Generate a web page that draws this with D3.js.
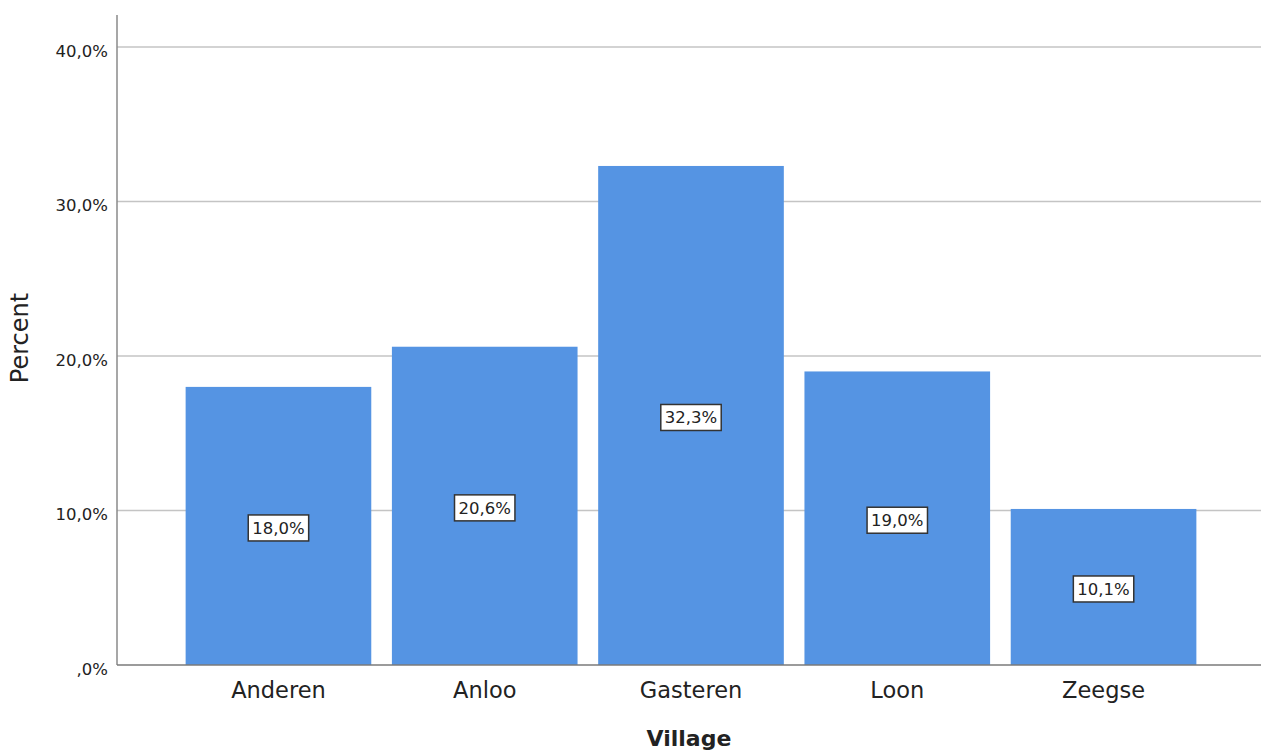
<!DOCTYPE html>
<html>
<head>
<meta charset="utf-8">
<script src="https://cdn.jsdelivr.net/npm/d3@7"></script>
<style>
  html, body { margin: 0; padding: 0; background: #fff; }
  svg { display: block; }
  text { font-family: "DejaVu Sans", Verdana, sans-serif; fill: #222; }
</style>
</head>
<body>
<svg id="chart" width="1261" height="751"></svg>
<script>
const categories = ["Anderen", "Anloo", "Gasteren", "Loon", "Zeegse"];
const percents = [18.0, 20.6, 32.3, 19.0, 10.1];
const yTicks = [0, 10, 20, 30, 40];
const xTitle = "Village";
const yTitle = "Percent";

const fmt = v => (v === 0 ? "" : Math.floor(v).toString()) + "," + Math.round((v % 1) * 10) + "%";

const W = 1261, H = 751;
const plot = { left: 117, right: 1261, top: 15, bottom: 665 };

const svg = d3.select("#chart");

const x = d3.scaleBand()
  .domain(categories)
  .range([165, 1217])
  .paddingInner(0.1)
  .paddingOuter(0.1);

const y = d3.scaleLinear()
  .domain([0, 40])
  .range([plot.bottom, 47]);

// gridlines
svg.append("g")
  .selectAll("line")
  .data(yTicks.filter(t => t > 0))
  .join("line")
  .attr("x1", plot.left).attr("x2", plot.right)
  .attr("y1", d => y(d)).attr("y2", d => y(d))
  .attr("stroke", "#c4c4c4")
  .attr("stroke-width", 1.5);

// bars
svg.append("g")
  .selectAll("rect")
  .data(categories)
  .join("rect")
  .attr("x", d => x(d))
  .attr("width", x.bandwidth())
  .attr("y", (d, i) => y(percents[i]))
  .attr("height", (d, i) => y(0) - y(percents[i]))
  .attr("fill", "#5594e3");

// axes lines
svg.append("line")
  .attr("x1", plot.left).attr("x2", plot.left)
  .attr("y1", plot.top).attr("y2", plot.bottom)
  .attr("stroke", "#8a8a8a").attr("stroke-width", 1.5);
svg.append("line")
  .attr("x1", plot.left).attr("x2", plot.right)
  .attr("y1", plot.bottom).attr("y2", plot.bottom)
  .attr("stroke", "#7a7a7a").attr("stroke-width", 1.5);

// y tick labels
const yAxis = d3.axisLeft(y).tickValues(yTicks).tickFormat(fmt).tickSize(0).tickPadding(9);
const ya = svg.append("g").attr("transform", `translate(${plot.left},0)`).call(yAxis);
ya.select(".domain").remove();
ya.selectAll("text")
  .attr("font-size", 16.5)
  .attr("font-family", "DejaVu Sans, Verdana, sans-serif")
  .attr("fill", "#222")
  .attr("dy", "0.55em");

// x tick labels
const xAxis = d3.axisBottom(x).tickSize(0).tickPadding(0);
const xa = svg.append("g").attr("transform", `translate(0,${plot.bottom})`).call(xAxis);
xa.select(".domain").remove();
xa.selectAll("text")
  .attr("font-size", 22.5)
  .attr("font-family", "DejaVu Sans, Verdana, sans-serif")
  .attr("fill", "#333")
  .attr("y", 33)
  .attr("dy", 0);

// data labels
const labels = svg.append("g")
  .selectAll("g")
  .data(categories)
  .join("g")
  .attr("transform", (d, i) => `translate(${x(d) + x.bandwidth() / 2},${(y(0) + y(percents[i])) / 2 + 2})`);

labels.each(function(d, i) {
  const g = d3.select(this);
  const rect = g.append("rect");
  const t = g.append("text")
    .attr("text-anchor", "middle")
    .attr("dy", "0.36em")
    .attr("font-size", 16.5)
    .attr("fill", "#222")
    .text(fmt(percents[i]));
  const bb = t.node().getBBox();
  const pw = bb.width + 8, ph = 26;
  rect.attr("x", -pw / 2).attr("y", -ph / 2)
    .attr("width", pw).attr("height", ph)
    .attr("fill", "#fff")
    .attr("stroke", "#333")
    .attr("stroke-width", 1.5);
});

// axis titles
svg.append("text")
  .attr("x", (plot.left + plot.right) / 2)
  .attr("y", 746)
  .attr("text-anchor", "middle")
  .attr("font-size", 22)
  .attr("font-weight", "bold")
  .attr("fill", "#111")
  .text(xTitle);

svg.append("text")
  .attr("transform", `translate(28,338) rotate(-90)`)
  .attr("text-anchor", "middle")
  .attr("font-size", 24)
  .attr("fill", "#111")
  .text(yTitle);
</script>
</body>
</html>
